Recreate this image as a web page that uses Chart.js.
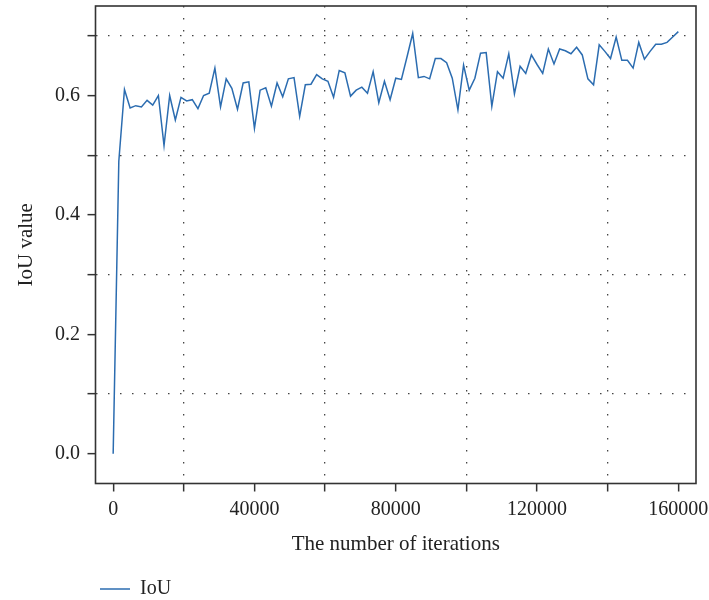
<!DOCTYPE html>
<html lang="en">
<head>
<meta charset="UTF-8">
<title>IoU value</title>
<style>
  html, body { margin: 0; padding: 0; background: #fff; }
</style>
</head>
<body>
<canvas id="myChart" width="709" height="600"></canvas>
<script src="https://cdn.jsdelivr.net/npm/chart.js"></script>
<script>
// iterations (x) and IoU (y)
const iterations = [
    0, 1600, 3200, 4800, 6400, 8000, 9600, 11200, 12800, 14400,
    16000, 17600, 19200, 20800, 22400, 24000, 25600, 27200, 28800, 30400,
    32000, 33600, 35200, 36800, 38400, 40000, 41600, 43200, 44800, 46400,
    48000, 49600, 51200, 52800, 54400, 56000, 57600, 59200, 60800, 62400,
    64000, 65600, 67200, 68800, 70400, 72000, 73600, 75200, 76800, 78400,
    80000, 81600, 83200, 84800, 86400, 88000, 89600, 91200, 92800, 94400,
    96000, 97600, 99200, 100800, 102400, 104000, 105600, 107200, 108800, 110400,
    112000, 113600, 115200, 116800, 118400, 120000, 121600, 123200, 124800, 126400,
    128000, 129600, 131200, 132800, 134400, 136000, 137600, 139200, 140800, 142400,
    144000, 145600, 147200, 148800, 150400, 152000, 153600, 155200, 156800, 158400,
    160000
];
const iou = [
    0.000, 0.490, 0.610, 0.579, 0.583, 0.581, 0.592, 0.584, 0.600, 0.516,
    0.600, 0.559, 0.597, 0.591, 0.593, 0.578, 0.600, 0.604, 0.646, 0.581,
    0.628, 0.612, 0.577, 0.621, 0.623, 0.545, 0.609, 0.613, 0.582, 0.621,
    0.598, 0.628, 0.630, 0.565, 0.618, 0.619, 0.635, 0.628, 0.624, 0.597,
    0.642, 0.638, 0.599, 0.609, 0.614, 0.604, 0.640, 0.588, 0.624, 0.593,
    0.629, 0.627, 0.665, 0.704, 0.630, 0.632, 0.628, 0.662, 0.662, 0.655,
    0.629, 0.576, 0.651, 0.609, 0.629, 0.671, 0.672, 0.582, 0.640, 0.629,
    0.670, 0.603, 0.649, 0.637, 0.668, 0.652, 0.637, 0.678, 0.653, 0.678,
    0.675, 0.670, 0.681, 0.668, 0.628, 0.618, 0.685, 0.674, 0.662, 0.698,
    0.659, 0.659, 0.646, 0.689, 0.661, 0.674, 0.686, 0.686, 0.689, 0.698,
    0.707
];

// ticks every 20000 / 0.1, labels only on every other one
const xTicks = [0, 20000, 40000, 60000, 80000, 100000, 120000, 140000, 160000];
const xLabels = [0, 40000, 80000, 120000, 160000];
const yTicks = [0, 0.1, 0.2, 0.3, 0.4, 0.5, 0.6, 0.7];
const yLabels = [0, 0.2, 0.4, 0.6];

const FONT = '"Liberation Serif", "DejaVu Serif", serif';
const LINE = '#2b6cb0';
const AXIS = '#333';

const near = (arr, v) => arr.some(a => Math.abs(a - v) < 1e-6);

// outer box + legend placement
const frame = {
    id: 'frame',
    beforeDraw(chart) {
        chart.legend.left = 98;
        chart.legend.top = 577;
    },
    afterDatasetsDraw(chart) {
        const {ctx, chartArea: a} = chart;
        ctx.save();
        ctx.strokeStyle = AXIS;
        ctx.lineWidth = 1.6;
        ctx.strokeRect(a.left, a.top, a.right - a.left, a.bottom - a.top);
        ctx.restore();
    }
};

const ctx = document.querySelector('#myChart');
const myChart = new Chart(ctx, {
    type: 'line',
    data: {
        datasets: [{
            label: 'IoU',
            data: iterations.map((x, i) => ({x: x, y: iou[i]})),
            borderColor: LINE,
            backgroundColor: LINE,
            borderWidth: 1.5,
            pointRadius: 0,
            pointBorderColor: LINE,
            pointBorderWidth: 1.5,
            tension: 0,
            fill: false
        }]
    },
    options: {
        responsive: false,
        animation: false,
        devicePixelRatio: 1,
        layout: { autoPadding: false, padding: { top: 6, right: 13, left: 0, bottom: 0 } },
        plugins: {
            tooltip: { enabled: false },
            legend: {
                position: 'bottom',
                align: 'start',
                labels: {
                    usePointStyle: true,
                    pointStyle: 'line',
                    pointStyleWidth: 30,
                    padding: 2,
                    color: '#222',
                    font: { family: FONT, size: 20 }
                }
            }
        },
        scales: {
            x: {
                type: 'linear',
                min: -5000,
                max: 165000,
                afterBuildTicks: s => { s.ticks = xTicks.map(v => ({value: v})); },
                afterFit: s => { s.height = 84.5; s.paddingLeft = 0; s.paddingRight = 0; },
                border: { display: false, dash: [1.5, 10.5] },
                grid: {
                    color: c => (c.tick && !near(xLabels, c.tick.value)) ? '#444' : 'rgba(0,0,0,0)',
                    lineWidth: 1.3,
                    tickColor: AXIS,
                    tickWidth: 1.5,
                    tickLength: 8,
                    tickBorderDash: []
                },
                ticks: {
                    autoSkip: false,
                    maxRotation: 0,
                    padding: 6,
                    color: '#222',
                    font: { family: FONT, size: 20 },
                    callback: v => near(xLabels, v) ? String(v) : ''
                },
                title: {
                    display: true,
                    text: 'The number of iterations',
                    color: '#222',
                    font: { family: FONT, size: 21 },
                    padding: { top: 0, bottom: 11 }
                }
            },
            y: {
                min: -0.05,
                max: 0.75,
                afterBuildTicks: s => { s.ticks = yTicks.map(v => ({value: v})); },
                afterFit: s => { s.width = 95.5; s.paddingTop = 0; s.paddingBottom = 0; },
                border: { display: false, dash: [1.5, 10.5] },
                grid: {
                    color: c => (c.tick && !near(yLabels, c.tick.value)) ? '#444' : 'rgba(0,0,0,0)',
                    lineWidth: 1.3,
                    tickColor: AXIS,
                    tickWidth: 1.5,
                    tickLength: 8,
                    tickBorderDash: []
                },
                ticks: {
                    autoSkip: false,
                    padding: 7.5,
                    color: '#222',
                    font: { family: FONT, size: 20 },
                    callback: v => near(yLabels, v) ? v.toFixed(1) : ''
                },
                title: {
                    display: true,
                    text: 'IoU value',
                    color: '#222',
                    font: { family: FONT, size: 21 },
                    padding: { top: 14, bottom: 0 }
                }
            }
        }
    },
    plugins: [frame]
});
</script>
</body>
</html>
